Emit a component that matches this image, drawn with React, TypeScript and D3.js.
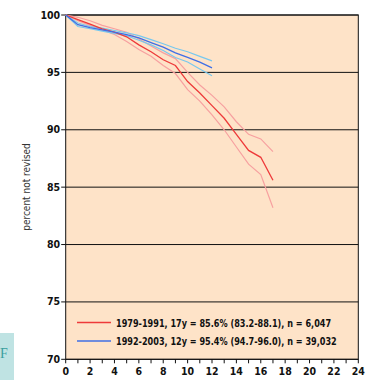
import React from 'react';
import * as d3 from 'd3';

// years since operation
const years = [0, 1, 2, 3, 4, 5, 6, 7, 8, 9, 10, 11, 12, 13, 14, 15, 16, 17];

// 1979-1991 cohort
const early = [100, 99.6, 99.2, 98.8, 98.5, 98.1, 97.4, 96.8, 96.1, 95.6, 94.2, 93.2, 92.1, 91.0, 89.6, 88.2, 87.6, 85.6];
const earlyLow = [100, 99.5, 99.1, 98.7, 98.3, 97.7, 97.0, 96.4, 95.6, 94.9, 93.5, 92.5, 91.3, 90.0, 88.5, 87.0, 86.1, 83.2];
const earlyHigh = [100, 99.8, 99.5, 99.1, 98.8, 98.5, 97.9, 97.3, 96.7, 96.2, 95.0, 93.9, 93.0, 92.0, 90.7, 89.6, 89.2, 88.1];

// 1992-2003 cohort
const late = [100, 99.15, 98.9, 98.7, 98.5, 98.3, 98.0, 97.6, 97.2, 96.7, 96.3, 95.9, 95.4];
const lateLow = [100, 99.0, 98.8, 98.6, 98.4, 98.2, 97.8, 97.4, 96.9, 96.3, 95.9, 95.3, 94.7];
const lateHigh = [100, 99.3, 99.0, 98.85, 98.65, 98.45, 98.2, 97.85, 97.5, 97.1, 96.8, 96.4, 96.0];

const yTicks = [70, 75, 80, 85, 90, 95, 100];
const xLabels = [0, 2, 4, 6, 8, 10, 12, 14, 16, 18, 20, 22, 24];
const legendLabels = [
  '1979-1991, 17y = 85.6% (83.2-88.1), n = 6,047',
  '1992-2003, 12y = 95.4% (94.7-96.0), n = 39,032',
];

const font = '"DejaVu Sans Condensed", "Liberation Sans Narrow", sans-serif';

export default function App() {
  const left = 65.7, right = 358.3, top = 15, bottom = 359.3;
  const x = d3.scaleLinear().domain([0, 24]).range([left, right]);
  const y = d3.scaleLinear().domain([70, 100]).range([bottom, top]);

  const line = (vals: number[]) =>
    d3.line<number>().x((_, i) => x(years[i])).y((d) => y(d))(vals) || '';

  const minor = d3.range(0, 25);

  return (
    <svg width={372} height={380} style={{ position: 'absolute', left: 0, top: 0 }}>
      <rect x={0} y={0} width={372} height={380} fill="white" />
      {/* side box from the page */}
      <rect x={0} y={333} width={14} height={47} fill="#bfe3e3" />
      <text x={0} y={358} fontFamily="Liberation Serif, serif" fontSize={14} fill="#3a9e9e">F</text>

      <rect x={left} y={top} width={right - left} height={bottom - top} fill="#fee3c8" />
      {yTicks.map((t) => (
        <g key={t}>
          <line x1={left} x2={right} y1={y(t)} y2={y(t)} stroke="#111" strokeWidth={1} />
          <line x1={left - 4.5} x2={left} y1={y(t)} y2={y(t)} stroke="#111" />
          <text x={left - 5.5} y={y(t) + 3.5} textAnchor="end" fontFamily={font} fontWeight="bold" fontSize={10.5} fill="#111">{t}</text>
        </g>
      ))}
      <rect x={left} y={top} width={right - left} height={bottom - top} fill="none" stroke="#111" strokeWidth={1} />
      {minor.map((t) => (
        <line key={t} x1={x(t)} x2={x(t)} y1={bottom} y2={bottom + 4} stroke="#111" />
      ))}
      {xLabels.map((t) => (
        <text key={t} x={x(t)} y={375} textAnchor="middle" fontFamily={font} fontWeight="bold" fontSize={10.5} fill="#111">{t}</text>
      ))}
      <text transform={`translate(30,187) rotate(-90)`} textAnchor="middle" fontFamily={font} fontSize={10} fill="#333">percent not revised</text>

      {/* confidence bands */}
      <path d={line(earlyLow)} fill="none" stroke="#f7a0a0" strokeWidth={1.2} />
      <path d={line(earlyHigh)} fill="none" stroke="#f7a0a0" strokeWidth={1.2} />
      <path d={line(lateLow)} fill="none" stroke="#78c8ee" strokeWidth={1.2} />
      <path d={line(lateHigh)} fill="none" stroke="#78c8ee" strokeWidth={1.2} />
      <path d={line(early)} fill="none" stroke="#ee3a3a" strokeWidth={1.3} />
      <path d={line(late)} fill="none" stroke="#3f6fe6" strokeWidth={1.3} />

      {/* legend */}
      {legendLabels.map((l, i) => (
        <g key={l}>
          <line x1={77} x2={111} y1={322.5 + i * 18.5} y2={322.5 + i * 18.5} stroke={i === 0 ? '#ee3a3a' : '#3f6fe6'} strokeWidth={1.3} />
          <text transform={`translate(116,${326.5 + i * 18.5}) scale(0.86,1)`} fontFamily={font} fontWeight="bold" fontSize={10.5} fill="#111">{l}</text>
        </g>
      ))}
    </svg>
  );
}
